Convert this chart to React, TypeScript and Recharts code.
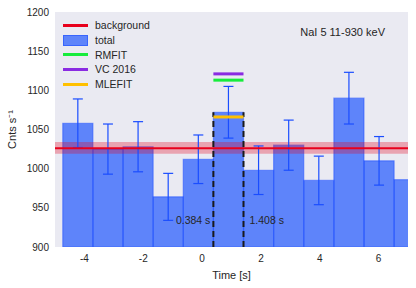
import React from 'react';
import {
  ComposedChart,
  XAxis,
  YAxis,
  CartesianGrid,
  ReferenceArea,
  ReferenceLine,
  ReferenceDot,
  Scatter,
  ErrorBar,
  Legend,
} from 'recharts';

// histogram bins (s)
const binEdges = [-4.736, -3.712, -2.688, -1.664, -0.64, 0.384, 1.408, 2.432, 3.456, 4.48, 5.504, 6.528, 7.552];
const totalRate = [1058, 1025, 1028, 964, 1012, 1072, 998, 1030, 985, 1090, 1010, 986];
const totalErr = [31, 32, 32, 30, 31, 33, 31, 32, 31, 33, 31, 31];

const bgRate = 1026;
const bgLow = 1019;
const bgHigh = 1034;

const pulseStart = 0.384;
const pulseEnd = 1.408;

const fitNames = ['RMFIT', 'VC 2016', 'MLEFIT'];
const fitRates = [1113, 1121, 1066];
const fitColors = ['#17ec3c', '#8a2be2', '#ffc000'];

const xTicks = [-4, -2, 0, 2, 4, 6];
const yTicks = [900, 950, 1000, 1050, 1100, 1150, 1200];

const BLUE = '#0040ff';
const RED = '#e8001c';
const TXT = '#262626';

const errPoints = totalRate
  .map((y, i) => ({ x: (binEdges[i] + binEdges[i + 1]) / 2, y, err: totalErr[i] }))
  .filter((p) => p.x < 7);

const legendItems = [
  { name: 'background', color: RED, box: false },
  { name: 'total', color: BLUE, box: true },
  ...fitNames.map((n, i) => ({ name: n, color: fitColors[i], box: false })),
];

const LegendBox = () => (
  <div style={{ fontSize: 10.5, color: TXT, lineHeight: '14.8px' }}>
    {legendItems.map((it) => (
      <div key={it.name} style={{ display: 'flex', alignItems: 'center', height: 14.8 }}>
        {it.box ? (
          <span
            style={{
              display: 'inline-block',
              width: 23,
              height: 9,
              background: 'rgba(0,64,255,0.6)',
              border: '1px solid rgba(32,80,255,0.6)',
            }}
          />
        ) : (
          <span style={{ display: 'inline-block', width: 25, height: 3, background: it.color }} />
        )}
        <span style={{ marginLeft: 7 }}>{it.name}</span>
      </div>
    ))}
  </div>
);

export default function App() {
  return (
    <div
      style={{
        position: 'fixed',
        left: 0,
        top: 0,
        width: 416,
        height: 288,
        background: '#fff',
        fontFamily: '"Liberation Sans", Arial, sans-serif',
      }}
    >
      <ComposedChart width={416} height={288} margin={{ top: 12, right: 8, left: 0, bottom: 0 }}>
        <CartesianGrid fill="#eaeaf2" stroke="#eaeaf2" horizontal={false} vertical={false} />
        <XAxis
          type="number"
          dataKey="x"
          domain={[-5, 7]}
          ticks={xTicks}
          allowDataOverflow
          axisLine={false}
          tickLine={false}
          tickSize={0}
          tickMargin={8}
          height={41}
          tick={{ fill: TXT, fontSize: 10 }}
          label={{ value: 'Time [s]', position: 'insideBottom', offset: 9, fill: TXT, fontSize: 11 }}
        />
        <YAxis
          type="number"
          domain={[900, 1200]}
          ticks={yTicks}
          allowDataOverflow
          axisLine={false}
          tickLine={false}
          tickSize={0}
          tickMargin={6}
          width={55}
          tick={{ fill: TXT, fontSize: 10 }}
          label={{
            value: 'Cnts s⁻¹',
            angle: -90,
            position: 'insideLeft',
            offset: 12,
            fill: TXT,
            fontSize: 11,
            style: { textAnchor: 'middle' },
          }}
        />
        {totalRate.map((v, i) => (
          <ReferenceArea
            key={i}
            x1={binEdges[i]}
            x2={binEdges[i + 1]}
            y1={900}
            y2={v}
            fill={BLUE}
            fillOpacity={0.6}
            stroke="#2050ff"
            strokeOpacity={0.5}
            strokeWidth={1.2}
            ifOverflow="hidden"
          />
        ))}
        <Scatter data={errPoints} dataKey="y" isAnimationActive={false} shape={() => <g />}>
          <ErrorBar dataKey="err" direction="y" width={5} stroke="#1a4dff" strokeWidth={1.2} />
        </Scatter>
        <ReferenceArea x1={-5} x2={7} y1={bgLow} y2={bgHigh} fill={RED} fillOpacity={0.3} stroke="none" />
        <ReferenceLine y={bgRate} stroke={RED} strokeWidth={2} />
        <ReferenceLine
          segment={[{ x: pulseStart, y: 900 }, { x: pulseStart, y: totalRate[5] }]}
          stroke="#1a1a1a"
          strokeWidth={2}
          strokeDasharray="6 4"
        />
        <ReferenceLine
          segment={[{ x: pulseEnd, y: 900 }, { x: pulseEnd, y: totalRate[5] }]}
          stroke="#1a1a1a"
          strokeWidth={2}
          strokeDasharray="6 4"
        />
        {fitRates.map((r, i) => (
          <ReferenceLine
            key={fitNames[i]}
            segment={[{ x: pulseStart, y: r }, { x: pulseEnd, y: r }]}
            stroke={fitColors[i]}
            strokeWidth={3}
          />
        ))}
        <ReferenceDot
          x={pulseStart}
          y={934}
          r={0}
          stroke="none"
          label={{ value: `${pulseStart} s`, position: 'left', offset: 3, fill: TXT, fontSize: 10.5 }}
        />
        <ReferenceDot
          x={pulseEnd}
          y={934}
          r={0}
          stroke="none"
          label={{ value: `${pulseEnd} s`, position: 'right', offset: 6, fill: TXT, fontSize: 10.5 }}
        />
        <Legend
          layout="vertical"
          align="center"
          verticalAlign="middle"
          content={() => <LegendBox />}
          wrapperStyle={{ left: 63, top: 18, width: 120, height: 76 }}
        />
      </ComposedChart>
      <div style={{ position: 'absolute', right: 31, top: 26, fontSize: 11, color: TXT }}>NaI 5 11-930 keV</div>
    </div>
  );
}
